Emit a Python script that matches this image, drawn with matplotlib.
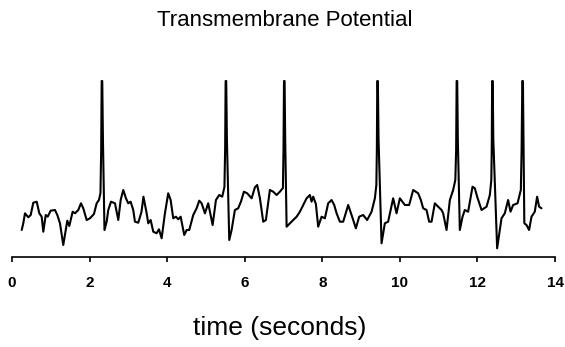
import matplotlib
matplotlib.use("Agg")
import matplotlib.pyplot as plt
import numpy as np

plt.rcParams['font.family'] = ['Liberation Sans', 'DejaVu Sans']

# trace: time (s) and potential (arbitrary units above axis)
t = [0.25, 0.291, 0.335, 0.42, 0.482, 0.549, 0.637, 0.704, 0.765, 0.807,
     0.869, 0.92, 0.997, 1.108, 1.168, 1.237, 1.322, 1.384, 1.425, 1.477,
     1.564, 1.624, 1.709, 1.778, 1.838, 1.925, 2.01, 2.113, 2.183, 2.242,
     2.281, 2.299, 2.312, 2.327, 2.345, 2.384, 2.441, 2.482, 2.552, 2.655,
     2.74, 2.802, 2.869, 2.938, 2.997, 3.059, 3.126, 3.17, 3.255, 3.338,
     3.389, 3.472, 3.513, 3.575, 3.642, 3.729, 3.789, 3.858, 3.943, 4.028,
     4.09, 4.157, 4.227, 4.286, 4.348, 4.441, 4.503, 4.57, 4.673, 4.76,
     4.827, 4.889, 4.974, 5.059, 5.173, 5.258, 5.343, 5.42, 5.477, 5.495,
     5.508, 5.523, 5.541, 5.601, 5.662, 5.747, 5.832, 5.902, 5.979, 6.064,
     6.178, 6.263, 6.322, 6.392, 6.477, 6.546, 6.649, 6.735, 6.822, 6.907,
     6.985, 7.0, 7.013, 7.028, 7.044, 7.08, 7.165, 7.25, 7.338, 7.423,
     7.508, 7.595, 7.68, 7.724, 7.765, 7.835, 7.894, 7.982, 8.067, 8.152,
     8.24, 8.307, 8.369, 8.454, 8.539, 8.668, 8.755, 8.866, 8.951, 9.054,
     9.157, 9.271, 9.356, 9.394, 9.407, 9.418, 9.433, 9.451, 9.528, 9.613,
     9.698, 9.827, 9.915, 10.0, 10.129, 10.24, 10.343, 10.472, 10.541, 10.601,
     10.688, 10.755, 10.817, 10.902, 10.987, 11.075, 11.116, 11.204, 11.289, 11.374,
     11.43, 11.451, 11.464, 11.479, 11.495, 11.546, 11.616, 11.675, 11.76, 11.874,
     11.933, 11.993, 12.106, 12.235, 12.32, 12.358, 12.369, 12.379, 12.394, 12.41,
     12.508, 12.577, 12.621, 12.706, 12.791, 12.853, 12.92, 13.034, 13.119, 13.139,
     13.157, 13.173, 13.188, 13.209, 13.265, 13.332, 13.394, 13.479, 13.539, 13.59,
     13.652]

v = [27, 33.7, 43.7, 39.7, 42, 54.3, 55.3, 43.7, 40.3, 25.3,
     42, 40.3, 46.3, 47, 42, 33.7, 12, 27, 36.3, 31,
     45.3, 43.7, 47, 53.7, 48.7, 37, 38.7, 43, 53.7, 57,
     64, 107, 176, 176, 117, 27, 35.3, 47, 55.3, 53.7,
     37, 57, 67, 58.7, 53.7, 55.3, 47, 35.3, 34.3, 45,
     60.3, 43.7, 33.7, 37, 25.3, 23.7, 27.7, 18.7, 43.7, 63.7,
     57, 38.7, 40.3, 37.7, 40.3, 22, 27, 27, 42, 48.7,
     56.3, 53.7, 43.7, 53.7, 32, 57, 62, 60.3, 70, 107,
     176, 176, 117, 17, 27, 47, 48.7, 55.3, 65.3, 63.7,
     58.7, 69.7, 72, 58.7, 35.3, 37, 67, 65.3, 62, 65.3,
     69, 107, 176, 176, 117, 30.3, 33.7, 37, 40.3, 45.3,
     52, 58.7, 62, 55.3, 60.3, 53, 30.3, 40.3, 38.7, 53.7,
     57, 52, 43.7, 35.3, 35.3, 52, 42, 28.7, 40.3, 42,
     37, 45.3, 58.7, 72, 107, 176, 176, 117, 13.7, 33.7,
     35.3, 58.7, 43.7, 58.7, 52, 52, 67, 63.7, 57, 48.7,
     47, 35.3, 35.3, 53.7, 50.3, 47, 43.7, 27, 57, 67,
     77, 107, 176, 176, 117, 27, 40.3, 47, 45.3, 70.3,
     68.7, 60.3, 47, 50.3, 62, 77, 107, 176, 176, 117,
     8.7, 27, 38.7, 43.7, 57, 45.3, 52, 53.7, 67, 107,
     176, 176, 117, 33.7, 32, 27, 40.3, 45.3, 60.3, 50.3,
     48.7]

ticks = [0, 2, 4, 6, 8, 10, 12, 14]

fig = plt.figure(figsize=(5.65, 3.47), dpi=100)
ax = fig.add_axes([12/565, 90/347, 543/565, 187/347])

ax.plot(t, v, color='black', lw=1.5, solid_joinstyle='round',
        solid_capstyle='round')

ax.set_xlim(0, 14)
ax.set_ylim(0, 187)
ax.set_xticks(ticks)
ax.set_xticklabels([str(k) for k in ticks], fontsize=11, fontweight='bold')
ax.set_yticks([])
for side in ['top', 'left', 'right']:
    ax.spines[side].set_visible(False)
ax.spines['bottom'].set_linewidth(1.2)
ax.tick_params(axis='x', direction='out', length=3.5, width=1.2, pad=10)

fig.text(285/565, 1 - 21/347, 'Transmembrane Potential', fontsize=16,
         ha='center', va='center')
fig.text(280/565, 1 - 328/347, 'time (seconds)', fontsize=19,
         ha='center', va='center')

plt.savefig('out.png', dpi=100)
